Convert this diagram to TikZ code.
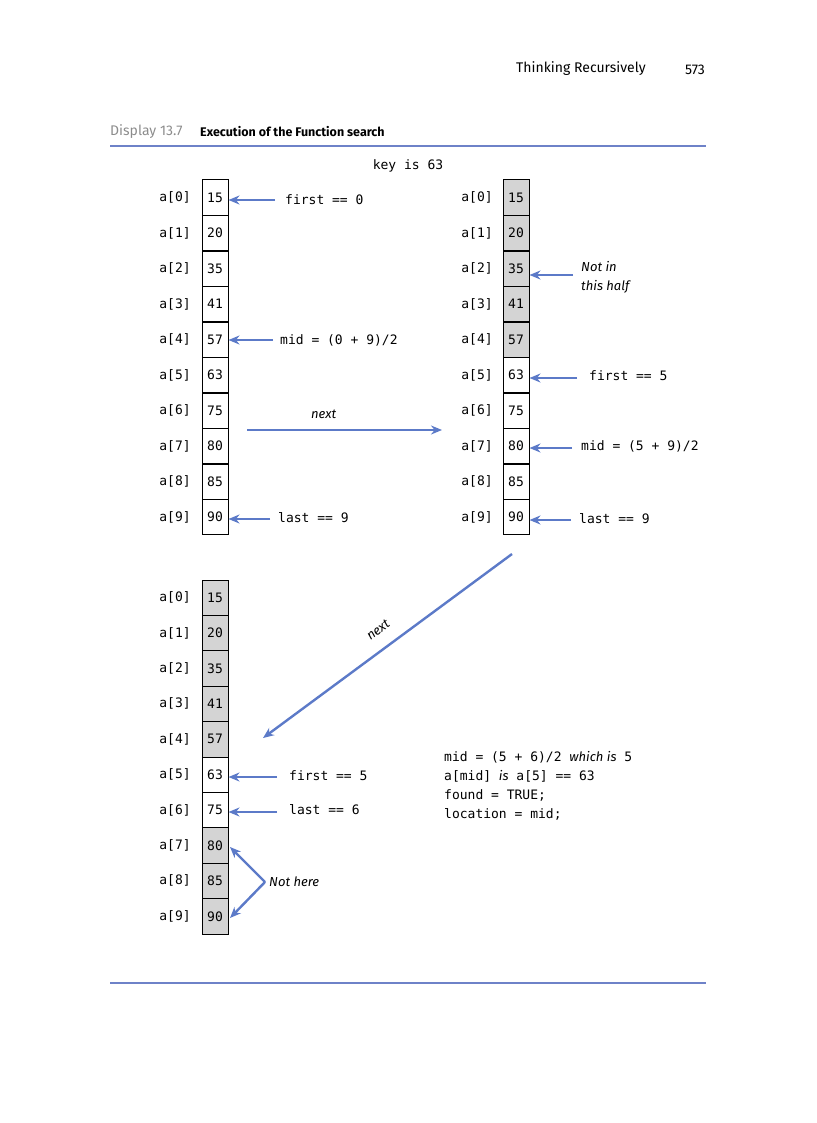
\documentclass[tikz,border=0pt]{standalone}
\usepackage{fontspec}
\setsansfont{Fira Sans}
\setmonofont{DejaVu Sans Mono}
\usetikzlibrary{arrows.meta}
\definecolor{ab}{RGB}{92,122,200}
\definecolor{rule}{RGB}{110,130,200}
\tikzset{
 cell/.style={draw,line width=1pt,minimum width=26pt,minimum height=35.4pt,inner sep=0pt,font=\ttfamily\fontsize{13}{13}\selectfont},
 sh/.style={fill=black!17},
 idx/.style={font=\ttfamily\fontsize{13}{13}\selectfont},
 code/.style={font=\ttfamily\fontsize{13}{15}\selectfont,anchor=west,inner sep=0pt},
 it/.style={font=\sffamily\itshape\fontsize{13}{19}\selectfont,anchor=west,inner sep=0pt,align=left},
 arr/.style={draw=ab,line width=2.4pt,-{Stealth[length=11pt,width=9pt]}},
}
\begin{document}
\begin{tikzpicture}[x=1pt,y=-1pt]
\useasboundingbox (0,0) rectangle (816,1123);
\node[font=\sffamily\fontsize{14}{14}\selectfont,anchor=west,inner sep=0pt] (hd) at (516,69) {Thinking Recursively};
\node[font=\sffamily\fontsize{14}{14}\selectfont] (pg) at (695,70) {573};
\node[font=\sffamily\fontsize{14}{14}\selectfont,text=black!45,anchor=west,inner sep=0pt] (dsp) at (110,132) {Display 13.7};
\node[font=\sffamily\bfseries\fontsize{12.5}{14}\selectfont,anchor=west,inner sep=0pt] (ttl) at (200,132) {Execution of the Function search};
\draw[rule,line width=1.2pt] (110,146) -- (706,146);
\draw[rule,line width=1.2pt] (110,983) -- (706,983);
\node[code,anchor=center] (key) at (408,166) {key is 63};
\def\vals{15,20,35,41,57,63,75,80,85,90}
\foreach \v [count=\i from 0] in \vals {
 \node[cell] (L\i) at (215,197.7+35.5*\i) {\v};
 \node[idx] (LI\i) at (175,197.7+35.5*\i) {a[\i]};
}
\foreach \v [count=\i from 0] in \vals {
 \pgfmathtruncatemacro\s{\i<5?1:0}
 \ifnum\s=1 \node[cell,sh] (R\i) at (516,197.7+35.5*\i) {\v};
 \else \node[cell] (R\i) at (516,197.7+35.5*\i) {\v}; \fi
 \node[idx] (RI\i) at (477,197.7+35.5*\i) {a[\i]};
}
\foreach \v [count=\i from 0] in \vals {
 \pgfmathtruncatemacro\s{(\i==5||\i==6)?0:1}
 \ifnum\s=1 \node[cell,sh] (B\i) at (215,597.7+35.4*\i) {\v};
 \else \node[cell] (B\i) at (215,597.7+35.4*\i) {\v}; \fi
 \node[idx] (BI\i) at (175,597.7+35.4*\i) {a[\i]};
}
\node[code] (t1) at (285,200) {first == 0};
\node[code] (t2) at (280,340) {mid = (0 + 9)/2};
\node[code] (t3) at (278,518) {last == 9};
\coordinate (c1) at (275,200); \coordinate (c2) at (273,340); \coordinate (c3) at (270,519);
\draw[arr] (c1) -- (L0.east|-c1);
\draw[arr] (c2) -- (L4.east|-c2);
\draw[arr] (c3) -- (L9.east|-c3);
\coordinate (n1) at (247,430); \coordinate (n2) at (442,430);
\draw[arr] (n1) -- (n2);
\node[it] (nx) at (311,414) {next};
\node[it] (nh) at (581,277) {Not in\\this half};
\node[code] (r5) at (589,376) {first == 5};
\node[code] (r7) at (581,446) {mid = (5 + 9)/2};
\node[code] (r9) at (579,519) {last == 9};
\coordinate (d2) at (573,275); \coordinate (d5) at (577,378); \coordinate (d7) at (572,448); \coordinate (d9) at (571,520);
\draw[arr] (d2) -- (R2.east|-d2);
\draw[arr] (d5) -- (R5.east|-d5);
\draw[arr] (d7) -- (R7.east|-d7);
\draw[arr] (d9) -- (R9.east|-d9);
\coordinate (g1) at (512,554); \coordinate (g2) at (263,738);
\draw[arr] (g1) -- (g2);
\node[font=\sffamily\itshape\fontsize{13}{13}\selectfont,rotate=37] (nx2) at (378,630) {next};
\node[code] (b5) at (289,776) {first == 5};
\node[code] (b6) at (289,810) {last == 6};
\coordinate (e5) at (277,777); \coordinate (e6) at (277,812);
\draw[arr] (e5) -- (B5.east|-e5);
\draw[arr] (e6) -- (B6.east|-e6);
\coordinate (v) at (265,882);
\draw[arr] (v) -- (230,847);
\draw[arr] (v) -- (230,918);
\node[it] (nhere) at (269,882) {Not here};
\node[code] (k1) at (444,757) {mid = (5 + 6)/2 {\sffamily\itshape which is} 5};
\node[code] (k2) at (444,776) {a[mid] {\sffamily\itshape is} a[5] == 63};
\node[code] (k3) at (444,795) {found = TRUE;};
\node[code] (k4) at (444,814) {location = mid;};
\end{tikzpicture}
\end{document}
